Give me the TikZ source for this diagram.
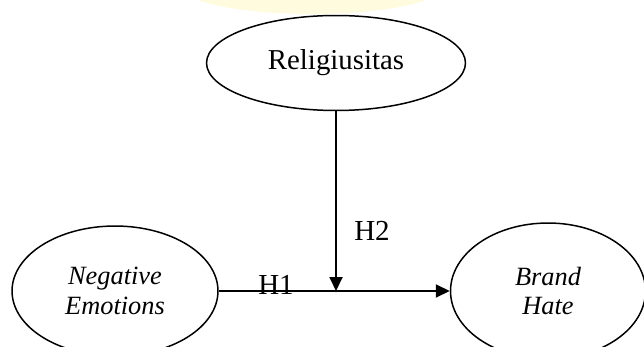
\documentclass[tikz,border=0pt]{standalone}
\usepackage{fontspec}
\setmainfont{Liberation Serif}
\usetikzlibrary{arrows.meta, positioning, shapes.geometric}
\definecolor{markyellow}{HTML}{FFFBDF}

\begin{document}
\begin{tikzpicture}[
    x=0.02cm, y=-0.02cm,
    construct/.style={draw, ellipse, line width=0.85pt, inner sep=0pt, align=center, fontsize=15},
    fontsize/.style={font=\fontsize{#1}{17}\selectfont},
    hypo/.style={font=\fontsize{16.5}{18}\selectfont, inner sep=0pt},
    connector/.style={-{Triangle[length=0.28cm, width=0.26cm]}, line width=1.05pt},
]
\useasboundingbox (0,0) rectangle (644,347);

% faint watermark at the top edge
\begin{scope}
\clip (0,0) rectangle (644,347);
\fill[markyellow] (312,-14) ellipse [x radius=132, y radius=28];
\end{scope}

% Constructs
\node[construct, fontsize=16.4, minimum width=5.18cm, minimum height=1.9cm] (relig) at (336,63) {Religiusitas};
\node[construct, minimum width=4.12cm, minimum height=2.6cm] (negemo) at (115,291) {\itshape Negative\\\itshape Emotions};
\node[construct, minimum width=3.9cm, minimum height=2.72cm] (brandhate) at (548,291) {\itshape Brand\\\itshape Hate};

% Moderation point on the main path
\coordinate (mod) at (negemo.east -| relig.south);

% Arrows
\draw[connector] (negemo.east) -- (brandhate.west);
\draw[connector] (relig.south) -- (mod);

% Hypotheses
\node[hypo] (hone) at (276,285) {H1};
\node[hypo] (htwo) at (372,231) {H2};

\end{tikzpicture}
\end{document}
